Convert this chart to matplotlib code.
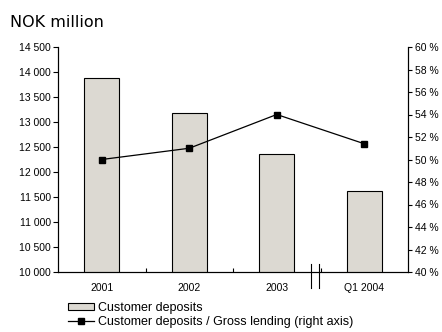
import matplotlib
matplotlib.use("Agg")
import matplotlib.pyplot as plt
from matplotlib.lines import Line2D
from matplotlib.patches import Patch
from matplotlib.ticker import FuncFormatter, FixedLocator

categories = ["2001", "2002", "2003", "Q1 2004"]
deposits = [13890, 13190, 12360, 11620]          # NOK million
deposit_ratio = [50.0, 51.0, 54.0, 51.4]         # % of gross lending

plt.rcParams["font.family"] = ["Liberation Sans", "DejaVu Sans"]

fig = plt.figure(figsize=(4.42, 3.32), dpi=100)
ax = fig.add_axes([58 / 442, 1 - 272 / 332, 350 / 442, 225 / 332])
ax2 = ax.twinx()

x = list(range(len(categories)))
ax.bar(x, deposits, width=0.4, color="#dcd9d2", edgecolor="black", linewidth=0.8, zorder=2)
ax.set_xlim(-0.5, len(categories) - 0.5)
ax.set_ylim(10000, 14500)
ax.set_yticks(range(10000, 14501, 500))
ax.yaxis.set_major_formatter(FuncFormatter(lambda v, p: f"{int(v):,}".replace(",", " ")))

ax2.plot(x, deposit_ratio, color="black", linewidth=0.9, marker="s", markersize=4.5, zorder=3)
ax2.set_ylim(40, 60)
ax2.set_yticks(range(40, 61, 2))
ax2.yaxis.set_major_formatter(FuncFormatter(lambda v, p: f"{int(v)} %"))

# category labels centred, ticks at category boundaries
ax.set_xticks(x)
ax.set_xticklabels(categories)
ax.tick_params(axis="x", which="major", length=0, pad=8, labelsize=7.5)
ax.xaxis.set_minor_locator(FixedLocator([0.5, 1.5, 2.5]))
ax.tick_params(axis="x", which="minor", direction="in", length=3, width=0.8)

ax.tick_params(axis="y", direction="out", length=3.5, width=0.8, labelsize=7.5, pad=1.5)
ax2.tick_params(axis="y", direction="out", length=3, width=0.8, labelsize=7.5, pad=2)

for a in (ax, ax2):
    a.spines["top"].set_visible(False)
    for s in ("left", "right", "bottom"):
        a.spines[s].set_linewidth(0.8)

# axis break between 2003 and Q1 2004
for bx in (2.39, 2.48):
    ax.plot([bx, bx], [-0.071, 0.036], transform=ax.get_xaxis_transform(),
            color="black", linewidth=0.8, clip_on=False, zorder=5)

fig.text(10 / 442, 1 - 27 / 332, "NOK million", fontsize=11.5, family="DejaVu Sans")

handles = [
    Patch(facecolor="#dcd9d2", edgecolor="black", linewidth=0.8),
    Line2D([0], [0], color="black", linewidth=0.9, marker="s", markersize=4),
]
labels = ["Customer deposits", "Customer deposits / Gross lending (right axis)"]
fig.legend(handles, labels, loc="upper left", bbox_to_anchor=(68 / 442, 1 - 302 / 332),
           frameon=False, fontsize=9, handlelength=2.1, handleheight=0.5, handletextpad=0.3,
           labelspacing=0.12, borderpad=0, borderaxespad=0)

fig.savefig("out.png", dpi=100)
